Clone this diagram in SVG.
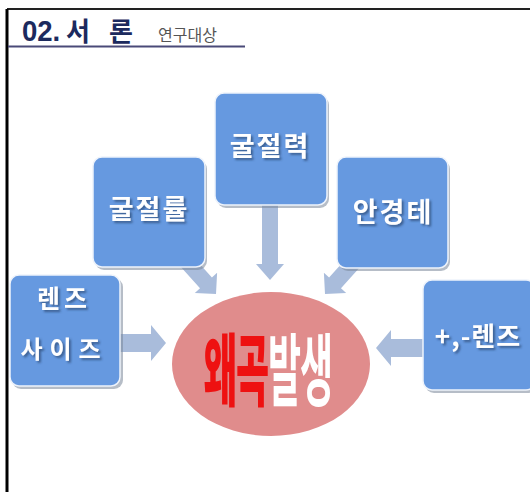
<svg xmlns="http://www.w3.org/2000/svg" width="530" height="492" viewBox="0 0 530 492">
<style>
.box{fill:#6699e0;stroke:#eef3fb;stroke-width:1.5}
.bsh{fill:#7a8699;opacity:0.55}
.bt{font-family:"Noto Sans CJK KR","Noto Sans",sans-serif;font-weight:bold;fill:#ffffff;text-anchor:middle}
.arr{fill:#a9bcdb}
</style>
<defs>
<filter id="ts" x="-20%" y="-20%" width="140%" height="160%">
<feDropShadow dx="2" dy="2" stdDeviation="1.2" flood-color="#2b4570" flood-opacity="0.7"/>
</filter>
</defs>
<rect x="0" y="0" width="530" height="492" fill="#ffffff"/>
<g id="frame">
<line x1="7" y1="9" x2="530" y2="9" stroke="#222" stroke-width="2"/>
<line x1="7" y1="9" x2="7" y2="492" stroke="#000" stroke-width="3"/>
<line x1="8" y1="46.5" x2="245" y2="46.5" stroke="#4a4a78" stroke-width="2"/>
</g>
<g id="title">
<text x="22" y="41" font-family="'Liberation Sans','Noto Sans CJK KR',sans-serif" font-weight="bold" font-size="29" fill="#1c2a5e" transform="translate(22,41) scale(0.95,1) translate(-22,-41)">02.</text>
<text x="66" y="41" font-family="'Noto Sans CJK KR',sans-serif" font-weight="bold" font-size="26" fill="#1c2a5e">서</text>
<text x="109" y="41" font-family="'Noto Sans CJK KR',sans-serif" font-weight="bold" font-size="26" fill="#1c2a5e">론</text>
<text x="158" y="41" font-family="'Noto Sans CJK KR',sans-serif" font-size="16" fill="#555555">연구대상</text>
</g>
<g id="connectors">
<polygon class="arr" transform="translate(166,343)" points="-56,-9 -15,-9 -15,-18 0,0 -15,18 -15,9 -56,9"/>
<polygon class="arr" transform="translate(376,348) rotate(180)" points="-54,-9 -15,-9 -15,-18 0,0 -15,18 -15,9 -54,9"/>
<polygon class="arr" transform="translate(270,280) rotate(90)" points="-80,-8 -16,-8 -16,-14 0,0 -16,14 -16,8 -80,8"/>
<polygon class="arr" transform="translate(216,294) rotate(48)" points="-55,-8 -15,-8 -15,-15 0,0 -15,15 -15,8 -55,8"/>
<polygon class="arr" transform="translate(325,294) rotate(132)" points="-55,-8 -15,-8 -15,-15 0,0 -15,15 -15,8 -55,8"/>
</g>
<g id="n-lens-size">
<rect class="bsh" x="12" y="278" width="111" height="111" rx="9"/>
<rect class="box" x="10" y="275" width="110" height="111" rx="9"/>
<text class="bt" x="64" y="308" font-size="25" letter-spacing="4" filter="url(#ts)">렌즈</text>
<text class="bt" x="64" y="358" font-size="24" letter-spacing="7" filter="url(#ts)">사이즈</text>
</g>
<g id="n-refractive-index">
<rect class="bsh" x="95" y="160" width="112" height="110" rx="9"/>
<rect class="box" x="93" y="157" width="112" height="110" rx="9"/>
<text class="bt" x="149" y="219" font-size="27" letter-spacing="2" filter="url(#ts)">굴절률</text>
</g>
<g id="n-refractive-power">
<rect class="bsh" x="217" y="96" width="112" height="112" rx="9"/>
<rect class="box" x="215" y="93" width="112" height="112" rx="9"/>
<text class="bt" x="270" y="156" font-size="27" letter-spacing="2" filter="url(#ts)">굴절력</text>
</g>
<g id="n-frame">
<rect class="bsh" x="339" y="160" width="111" height="111" rx="9"/>
<rect class="box" x="337" y="157" width="111" height="111" rx="9"/>
<text class="bt" x="393" y="222" font-size="27" letter-spacing="2" filter="url(#ts)">안경테</text>
</g>
<g id="n-pm-lens">
<rect class="bsh" x="425" y="283" width="112" height="110" rx="9"/>
<rect class="box" x="423" y="280" width="112" height="110" rx="9"/>
<text class="bt" x="478" y="346" font-size="26" letter-spacing="1" filter="url(#ts)">+,-렌즈</text>
</g>
<g id="n-distortion">
<ellipse cx="271" cy="364" rx="99" ry="72" fill="#e08c8c"/>
<g transform="translate(268,400) scale(1,2.2)">
<text x="0" y="0" text-anchor="middle" font-family="'Noto Sans CJK KR',sans-serif" font-size="36" letter-spacing="-1"><tspan fill="#ee1111" font-weight="900">왜곡</tspan><tspan fill="#ffffff" font-weight="bold">발생</tspan></text>
</g>
</g>
</svg>
